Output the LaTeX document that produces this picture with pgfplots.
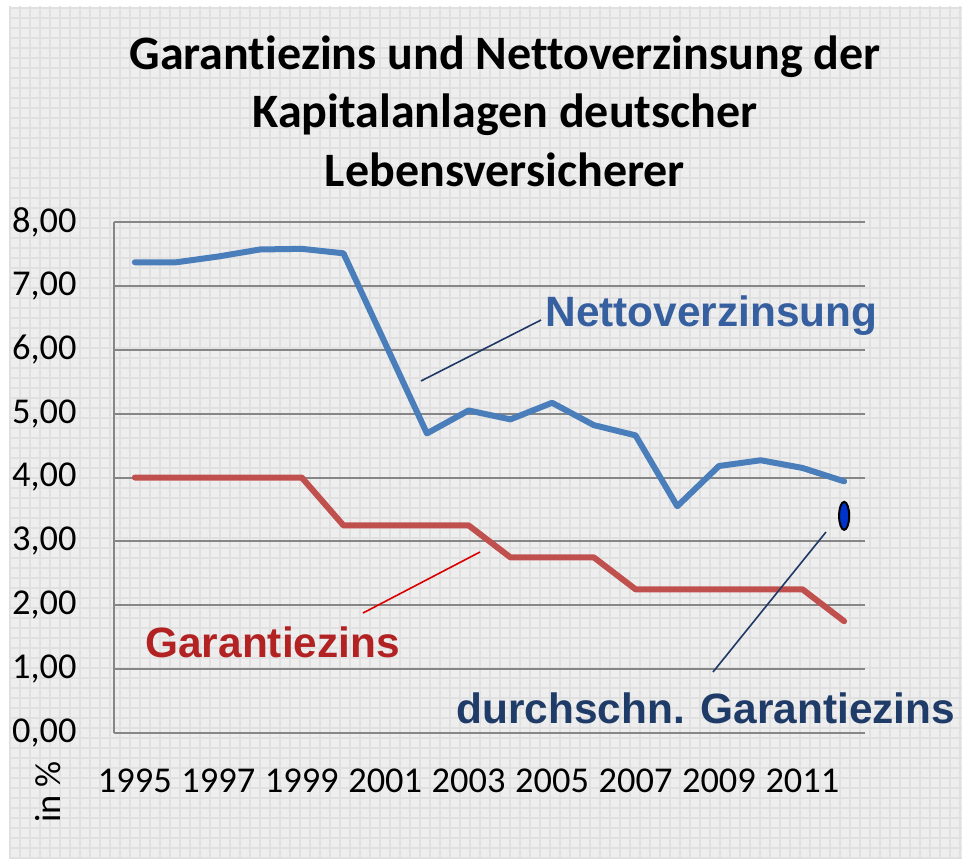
\documentclass[border=0pt]{standalone}
\usepackage{pgfplots}
\pgfplotsset{compat=1.18}
\usepackage{fontspec}
\setmainfont{Carlito}[Ligatures=NoCommon]
\newfontfamily\arialfont{Liberation Sans}
\definecolor{bggray}{HTML}{EEEEEE}
\definecolor{gridfine}{HTML}{E0E0E0}
\definecolor{gridc}{HTML}{868686}
\definecolor{nettoblue}{HTML}{4A7EBB}
\definecolor{garred}{HTML}{C0504D}
\definecolor{nettotext}{HTML}{365F9F}
\definecolor{gartext}{HTML}{B22222}
\definecolor{durchtext}{HTML}{1F3B67}
\definecolor{navyline}{HTML}{1F3864}
\definecolor{ellblue}{HTML}{0033CC}
\begin{document}
\begin{tikzpicture}
\fill[white] (0,0) rectangle (481pt,429pt);
\fill[bggray] (4.5pt,0) rectangle (481pt,425.5pt);
\begin{scope}
\clip (4.5pt,0) rectangle (481pt,425.5pt);
\draw[gridfine, line width=0.6pt] (0,0) grid[step=5pt] (481pt,429pt);
\end{scope}
% title
\node[anchor=base, font=\fontsize{24}{24}\selectfont\bfseries] at (252.5pt,394pt) {Garantiezins und Nettoverzinsung der};
\node[anchor=base, font=\fontsize{24}{24}\selectfont\bfseries] at (252.5pt,365pt) {Kapitalanlagen deutscher};
\node[anchor=base, font=\fontsize{24}{24}\selectfont\bfseries] at (252.5pt,335.5pt) {Lebensversicherer};
\begin{axis}[
  at={(57pt,62.5pt)}, anchor=south west,
  scale only axis, width=375.5pt, height=255.5pt,
  xmin=1994.5, xmax=2012.5, ymin=0, ymax=8,
  xtick={1995,1997,...,2011}, ytick={0,1,...,8},
  axis line style={draw=none},
  major tick length=0pt,
  ymajorgrids, grid style={gridc, line width=1pt},
  /pgf/number format/assume math mode=true,
  tick label style={font=\fontsize{18.2}{18.2}\selectfont, inner sep=0pt},
  xticklabel style={/pgf/number format/1000 sep={}, anchor=north, yshift=-17.5pt},
  yticklabel style={/pgf/number format/.cd, fixed, fixed zerofill, precision=2, use comma, /tikz/.cd, anchor=east, xshift=-18.5pt},
  clip=false,
]
\draw[gridc, line width=1pt] (rel axis cs:0,0) -- (rel axis cs:0,1);
\addplot[nettoblue, line width=3pt, line join=round, line cap=round] coordinates {
(1995,7.37) (1996,7.37) (1997,7.46) (1998,7.57) (1999,7.58) (2000,7.51)
(2001,6.10) (2002,4.69) (2003,5.05) (2004,4.91) (2005,5.17) (2006,4.82)
(2007,4.66) (2008,3.55) (2009,4.18) (2010,4.27) (2011,4.15) (2012,3.94)};
\addplot[garred, line width=3pt, line join=round, line cap=round] coordinates {
(1995,4.00) (1996,4.00) (1997,4.00) (1998,4.00) (1999,4.00) (2000,3.25)
(2001,3.25) (2002,3.25) (2003,3.25) (2004,2.75) (2005,2.75) (2006,2.75)
(2007,2.25) (2008,2.25) (2009,2.25) (2010,2.25) (2011,2.25) (2012,1.75)};
\addplot[only marks, mark=*, mark size=7pt, mark options={xscale=0.36, fill=ellblue, draw=black, line width=1pt}] coordinates {(2012,3.40)};
\end{axis}
% annotation lines
\draw[navyline, line width=0.8pt] (210.5pt,238.5pt) -- (270.5pt,269pt);
\draw[red!85!black, line width=0.8pt] (181.5pt,122.5pt) -- (240pt,153pt);
\draw[navyline, line width=0.8pt] (356.5pt,93pt) -- (413pt,163pt);
% annotation texts
\node[anchor=base west, inner sep=0pt, text=nettotext, font=\arialfont\bfseries\fontsize{21.2}{21.2}\selectfont] at (272.5pt,265.5pt) {Nettoverzinsung};
\node[anchor=base west, inner sep=0pt, text=gartext, font=\arialfont\bfseries\fontsize{21.2}{21.2}\selectfont] at (72.5pt,100.5pt) {Garantiezins};
\node[anchor=base west, inner sep=0pt, text=durchtext, font=\arialfont\bfseries\fontsize{21.2}{21.2}\selectfont] at (228pt,67.5pt) {durchschn. Garantiezins};
% y label
\node[rotate=90, anchor=base, inner sep=0pt, font=\fontsize{18.2}{18.2}\selectfont] at (30pt,33pt) {in \%};
\end{tikzpicture}
\end{document}
